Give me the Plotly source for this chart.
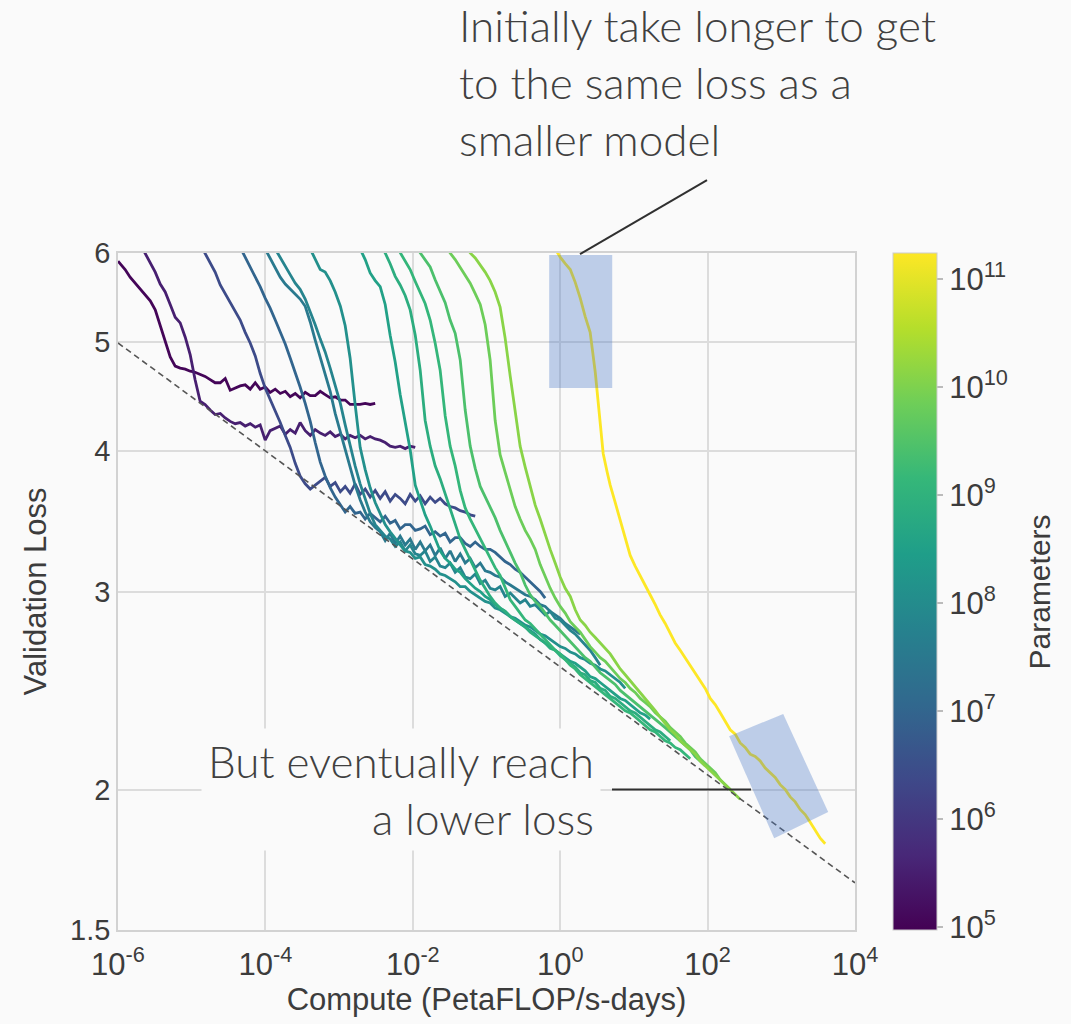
import math
import plotly.graph_objects as go
from plotly.colors import sample_colorscale

# ---------------- data ----------------
# parameter count of each training curve (colour)
params = [1.1e5, 3.2e5, 2.5e6, 1.0e7, 3.2e7, 6.3e7, 1.25e8, 3.5e8, 7.6e8,
          1.3e9, 2.7e9, 6.7e9, 1.3e10, 1.75e11]

c01_compute = [1.00e-6, 1.25e-6, 1.46e-6, 1.71e-6, 2.00e-6, 2.34e-6, 2.74e-6, 3.20e-6, 3.74e-6, 4.37e-6,
               5.11e-6, 5.97e-6, 6.98e-6, 8.17e-6, 9.55e-6, 1.11e-5, 1.30e-5, 1.52e-5, 1.78e-5, 2.08e-5,
               2.44e-5, 2.85e-5, 3.33e-5, 3.89e-5, 4.55e-5, 5.32e-5, 6.22e-5, 7.28e-5, 8.49e-5, 9.93e-5,
               1.16e-4, 1.36e-4, 1.59e-4, 1.86e-4, 2.17e-4, 2.54e-4, 2.96e-4, 3.47e-4, 4.06e-4, 4.74e-4,
               5.55e-4, 6.47e-4, 7.57e-4, 8.85e-4, 1.04e-3, 1.21e-3, 1.41e-3, 1.65e-3, 1.93e-3, 2.26e-3,
               2.64e-3, 3.09e-3]
c01_loss = [5.90, 5.80, 5.71, 5.64, 5.58, 5.51, 5.44, 5.34, 5.17, 5.00,
            4.85, 4.76, 4.74, 4.73, 4.71, 4.70, 4.68, 4.66, 4.63, 4.60,
            4.60, 4.64, 4.53, 4.55, 4.57, 4.58, 4.54, 4.60, 4.54, 4.56,
            4.51, 4.54, 4.50, 4.52, 4.47, 4.50, 4.46, 4.51, 4.48, 4.48,
            4.52, 4.49, 4.46, 4.47, 4.44, 4.44, 4.40, 4.40, 4.40, 4.41,
            4.40, 4.41]

c02_compute = [2.00e-6, 2.34e-6, 2.74e-6, 3.20e-6, 3.74e-6, 4.37e-6, 5.11e-6, 5.97e-6, 6.98e-6, 8.17e-6,
               9.55e-6, 1.11e-5, 1.30e-5, 1.52e-5, 1.78e-5, 2.08e-5, 2.44e-5, 2.85e-5, 3.33e-5, 3.89e-5,
               4.55e-5, 5.32e-5, 6.22e-5, 7.28e-5, 8.49e-5, 9.93e-5, 1.16e-4, 1.36e-4, 1.59e-4, 1.86e-4,
               2.17e-4, 2.54e-4, 2.96e-4, 3.47e-4, 4.06e-4, 4.74e-4, 5.55e-4, 6.47e-4, 7.57e-4, 8.85e-4,
               1.04e-3, 1.21e-3, 1.41e-3, 1.65e-3, 1.93e-3, 2.26e-3, 2.64e-3, 3.09e-3, 3.61e-3, 4.22e-3,
               4.93e-3, 5.77e-3, 6.74e-3, 7.88e-3, 9.21e-3, 1.08e-2]
c02_loss = [6.11, 6.00, 5.89, 5.77, 5.63, 5.54, 5.40, 5.26, 5.20, 5.05,
            4.87, 4.63, 4.43, 4.40, 4.35, 4.31, 4.32, 4.28, 4.25, 4.23,
            4.24, 4.21, 4.23, 4.20, 4.22, 4.09, 4.17, 4.19, 4.21, 4.14,
            4.18, 4.15, 4.24, 4.17, 4.13, 4.18, 4.15, 4.13, 4.16, 4.12,
            4.14, 4.10, 4.13, 4.11, 4.13, 4.10, 4.12, 4.10, 4.09, 4.07,
            4.04, 4.03, 4.04, 4.02, 4.04, 4.03]

c03_compute = [1.30e-5, 1.52e-5, 1.78e-5, 2.08e-5, 2.44e-5, 2.85e-5, 3.33e-5, 3.89e-5, 4.55e-5, 5.32e-5,
               6.22e-5, 7.28e-5, 8.49e-5, 9.93e-5, 1.16e-4, 1.36e-4, 1.59e-4, 1.86e-4, 2.17e-4, 2.54e-4,
               2.96e-4, 3.47e-4, 4.06e-4, 4.74e-4, 5.55e-4, 6.47e-4, 7.57e-4, 8.85e-4, 1.04e-3, 1.21e-3,
               1.41e-3, 1.65e-3, 1.93e-3, 2.26e-3, 2.64e-3, 3.09e-3, 3.61e-3, 4.22e-3, 4.93e-3, 5.77e-3,
               6.74e-3, 7.88e-3, 9.21e-3, 1.08e-2, 1.26e-2, 1.47e-2, 1.72e-2, 2.01e-2, 2.35e-2, 2.75e-2,
               3.21e-2, 3.76e-2, 4.40e-2, 5.14e-2, 6.01e-2, 7.03e-2]
c03_loss = [6.11, 6.00, 5.89, 5.77, 5.62, 5.52, 5.43, 5.33, 5.23, 5.10,
            4.99, 4.86, 4.69, 4.55, 4.45, 4.34, 4.24, 4.13, 4.03, 3.90,
            3.80, 3.74, 3.70, 3.73, 3.76, 3.79, 3.72, 3.75, 3.68, 3.72,
            3.67, 3.74, 3.66, 3.70, 3.64, 3.69, 3.63, 3.68, 3.61, 3.66,
            3.63, 3.59, 3.66, 3.61, 3.65, 3.59, 3.64, 3.60, 3.63, 3.59,
            3.57, 3.56, 3.54, 3.53, 3.51, 3.50]

c04_compute = [4.55e-5, 5.32e-5, 6.22e-5, 7.28e-5, 8.49e-5, 9.93e-5, 1.16e-4, 1.36e-4, 1.59e-4, 1.86e-4,
               2.17e-4, 2.54e-4, 2.96e-4, 3.47e-4, 4.06e-4, 4.74e-4, 5.55e-4, 6.47e-4, 7.57e-4, 8.85e-4,
               1.04e-3, 1.21e-3, 1.41e-3, 1.65e-3, 1.93e-3, 2.26e-3, 2.64e-3, 3.09e-3, 3.61e-3, 4.22e-3,
               4.93e-3, 5.77e-3, 6.74e-3, 7.88e-3, 9.21e-3, 1.08e-2, 1.26e-2, 1.47e-2, 1.72e-2, 2.01e-2,
               2.35e-2, 2.75e-2, 3.21e-2, 3.76e-2, 4.40e-2, 5.14e-2, 6.01e-2, 7.03e-2, 8.22e-2, 9.60e-2,
               0.112, 0.131, 0.153, 0.179, 0.210, 0.245, 0.286, 0.335, 0.392, 0.458,
               0.535, 0.625]
c04_loss = [6.07, 5.95, 5.84, 5.72, 5.60, 5.47, 5.36, 5.23, 5.11, 4.98,
            4.84, 4.70, 4.56, 4.41, 4.25, 4.07, 3.91, 3.80, 3.71, 3.64,
            3.58, 3.53, 3.57, 3.52, 3.53, 3.48, 3.52, 3.49, 3.46, 3.50,
            3.45, 3.47, 3.41, 3.44, 3.44, 3.40, 3.41, 3.43, 3.37, 3.39,
            3.36, 3.38, 3.32, 3.35, 3.35, 3.31, 3.29, 3.32, 3.29, 3.27,
            3.27, 3.25, 3.22, 3.19, 3.17, 3.14, 3.12, 3.09, 3.06, 3.03,
            3.00, 2.96]

c05_compute = [9.93e-5, 1.16e-4, 1.36e-4, 1.59e-4, 1.86e-4, 2.17e-4, 2.54e-4, 2.96e-4, 3.47e-4, 4.06e-4,
               4.74e-4, 5.55e-4, 6.47e-4, 7.57e-4, 8.85e-4, 1.04e-3, 1.21e-3, 1.41e-3, 1.65e-3, 1.93e-3,
               2.26e-3, 2.64e-3, 3.09e-3, 3.61e-3, 4.22e-3, 4.93e-3, 5.77e-3, 6.74e-3, 7.88e-3, 9.21e-3,
               1.08e-2, 1.26e-2, 1.47e-2, 1.72e-2, 2.01e-2, 2.35e-2, 2.75e-2, 3.21e-2, 3.76e-2, 4.40e-2,
               5.14e-2, 6.01e-2, 7.03e-2, 8.22e-2, 9.60e-2, 0.112, 0.131, 0.153, 0.179, 0.210,
               0.245, 0.286, 0.335, 0.392, 0.458, 0.535, 0.625, 0.731, 0.855, 1.00,
               1.17, 1.37, 1.60, 1.87]
c05_loss = [6.05, 5.94, 5.82, 5.71, 5.63, 5.57, 5.51, 5.46, 5.38, 5.21,
            5.02, 4.85, 4.68, 4.52, 4.32, 4.16, 4.00, 3.86, 3.73, 3.62,
            3.53, 3.46, 3.42, 3.39, 3.33, 3.38, 3.31, 3.36, 3.30, 3.34,
            3.27, 3.32, 3.26, 3.30, 3.23, 3.28, 3.21, 3.26, 3.19, 3.24,
            3.18, 3.21, 3.15, 3.18, 3.13, 3.12, 3.10, 3.09, 3.06, 3.04,
            3.02, 3.00, 2.98, 2.97, 2.95, 2.92, 2.91, 2.88, 2.86, 2.84,
            2.81, 2.79, 2.77, 2.75]

c06_compute = [1.36e-4, 1.59e-4, 1.86e-4, 2.17e-4, 2.54e-4, 2.96e-4, 3.47e-4, 4.06e-4, 4.74e-4, 5.55e-4,
               6.47e-4, 7.57e-4, 8.85e-4, 1.04e-3, 1.21e-3, 1.41e-3, 1.65e-3, 1.93e-3, 2.26e-3, 2.64e-3,
               3.09e-3, 3.61e-3, 4.22e-3, 4.93e-3, 5.77e-3, 6.74e-3, 7.88e-3, 9.21e-3, 1.08e-2, 1.26e-2,
               1.47e-2, 1.72e-2, 2.01e-2, 2.35e-2, 2.75e-2, 3.21e-2, 3.76e-2, 4.40e-2, 5.14e-2, 6.01e-2,
               7.03e-2, 8.22e-2, 9.60e-2, 0.112, 0.131, 0.153, 0.179, 0.210, 0.245, 0.286,
               0.335, 0.392, 0.458, 0.535, 0.625, 0.731, 0.855, 1.00, 1.17, 1.37,
               1.60, 1.87, 2.18, 2.55, 2.99, 3.49]
c06_loss = [6.05, 5.95, 5.84, 5.74, 5.64, 5.57, 5.46, 5.32, 5.18, 5.03,
            4.90, 4.74, 4.58, 4.41, 4.22, 4.04, 3.88, 3.74, 3.62, 3.52,
            3.44, 3.40, 3.36, 3.34, 3.29, 3.32, 3.26, 3.30, 3.24, 3.23,
            3.26, 3.19, 3.22, 3.16, 3.15, 3.18, 3.12, 3.15, 3.09, 3.08,
            3.11, 3.05, 3.07, 3.02, 3.01, 3.03, 2.97, 2.99, 2.96, 2.93,
            2.95, 2.91, 2.92, 2.89, 2.86, 2.88, 2.84, 2.83, 2.80, 2.77,
            2.75, 2.72, 2.69, 2.66, 2.62, 2.58]

c07_compute = [4.06e-4, 4.74e-4, 5.55e-4, 6.47e-4, 7.57e-4, 8.85e-4, 1.04e-3, 1.21e-3, 1.41e-3, 1.65e-3,
               1.93e-3, 2.26e-3, 2.64e-3, 3.09e-3, 3.61e-3, 4.22e-3, 4.93e-3, 5.77e-3, 6.74e-3, 7.88e-3,
               9.21e-3, 1.08e-2, 1.26e-2, 1.47e-2, 1.72e-2, 2.01e-2, 2.35e-2, 2.75e-2, 3.21e-2, 3.76e-2,
               4.40e-2, 5.14e-2, 6.01e-2, 7.03e-2, 8.22e-2, 9.60e-2, 0.112, 0.131, 0.153, 0.179,
               0.210, 0.245, 0.286, 0.335, 0.392, 0.458, 0.535, 0.625, 0.731, 0.855,
               1.00, 1.17, 1.37, 1.60, 1.87, 2.18, 2.55, 2.99, 3.49, 4.08,
               4.77, 5.57, 6.52, 7.62]
c07_loss = [6.05, 5.93, 5.80, 5.77, 5.67, 5.54, 5.38, 5.17, 4.84, 4.40,
            4.03, 3.85, 3.71, 3.60, 3.52, 3.44, 3.39, 3.34, 3.30, 3.26,
            3.25, 3.21, 3.22, 3.17, 3.16, 3.14, 3.11, 3.10, 3.08, 3.06,
            3.03, 3.03, 3.00, 2.98, 2.96, 2.94, 2.93, 2.90, 2.89, 2.87,
            2.85, 2.84, 2.82, 2.80, 2.79, 2.77, 2.75, 2.74, 2.72, 2.70,
            2.68, 2.67, 2.65, 2.64, 2.62, 2.61, 2.59, 2.58, 2.56, 2.55,
            2.53, 2.51, 2.49, 2.46]

c08_compute = [1.93e-3, 2.26e-3, 2.64e-3, 3.09e-3, 3.61e-3, 4.22e-3, 4.93e-3, 5.77e-3, 6.74e-3, 7.88e-3,
               9.21e-3, 1.08e-2, 1.26e-2, 1.47e-2, 1.72e-2, 2.01e-2, 2.35e-2, 2.75e-2, 3.21e-2, 3.76e-2,
               4.40e-2, 5.14e-2, 6.01e-2, 7.03e-2, 8.22e-2, 9.60e-2, 0.112, 0.131, 0.153, 0.179,
               0.210, 0.245, 0.286, 0.335, 0.392, 0.458, 0.535, 0.625, 0.731, 0.855,
               1.00, 1.17, 1.37, 1.60, 1.87, 2.18, 2.55, 2.99, 3.49, 4.08,
               4.77, 5.57, 6.52, 7.62, 8.91, 10.4, 12.2, 14.2, 16.6]
c08_loss = [6.05, 5.92, 5.76, 5.67, 5.60, 5.40, 5.07, 4.80, 4.49, 4.26,
            4.01, 3.73, 3.62, 3.51, 3.43, 3.34, 3.26, 3.21, 3.18, 3.14,
            3.12, 3.08, 3.05, 3.02, 3.00, 2.97, 2.95, 2.92, 2.90, 2.88,
            2.85, 2.83, 2.81, 2.79, 2.77, 2.75, 2.72, 2.70, 2.68, 2.66,
            2.64, 2.62, 2.60, 2.59, 2.57, 2.55, 2.52, 2.51, 2.49, 2.47,
            2.45, 2.43, 2.41, 2.40, 2.38, 2.36, 2.34, 2.33, 2.31]

c09_compute = [3.61e-3, 4.22e-3, 4.93e-3, 5.77e-3, 6.74e-3, 7.88e-3, 9.21e-3, 1.08e-2, 1.26e-2, 1.47e-2,
               1.72e-2, 2.01e-2, 2.35e-2, 2.75e-2, 3.21e-2, 3.76e-2, 4.40e-2, 5.14e-2, 6.01e-2, 7.03e-2,
               8.22e-2, 9.60e-2, 0.112, 0.131, 0.153, 0.179, 0.210, 0.245, 0.286, 0.335,
               0.392, 0.458, 0.535, 0.625, 0.731, 0.855, 1.00, 1.17, 1.37, 1.60,
               1.87, 2.18, 2.55, 2.99, 3.49, 4.08, 4.77, 5.57, 6.52, 7.62,
               8.91, 10.4, 12.2, 14.2, 16.6, 19.5, 22.7, 26.6, 31.1]
c09_loss = [6.09, 6.00, 5.87, 5.72, 5.62, 5.50, 5.34, 5.07, 4.72, 4.26,
            4.04, 3.88, 3.78, 3.66, 3.56, 3.44, 3.34, 3.27, 3.20, 3.13,
            3.07, 3.02, 2.97, 2.93, 2.90, 2.88, 2.85, 2.83, 2.81, 2.79,
            2.76, 2.74, 2.72, 2.70, 2.67, 2.66, 2.63, 2.61, 2.59, 2.57,
            2.54, 2.53, 2.50, 2.49, 2.46, 2.45, 2.42, 2.41, 2.39, 2.37,
            2.35, 2.34, 2.32, 2.30, 2.28, 2.26, 2.25, 2.23, 2.21]

c10_compute = [5.77e-3, 6.74e-3, 7.88e-3, 9.21e-3, 1.08e-2, 1.26e-2, 1.47e-2, 1.72e-2, 2.01e-2, 2.35e-2,
               2.75e-2, 3.21e-2, 3.76e-2, 4.40e-2, 5.14e-2, 6.01e-2, 7.03e-2, 8.22e-2, 9.60e-2, 0.112,
               0.131, 0.153, 0.179, 0.210, 0.245, 0.286, 0.335, 0.392, 0.458, 0.535,
               0.625, 0.731, 0.855, 1.00, 1.17, 1.37, 1.60, 1.87, 2.18, 2.55,
               2.99, 3.49, 4.08, 4.77, 5.57, 6.52, 7.62, 8.91, 10.4, 12.2,
               14.2, 16.6, 19.5, 22.7, 26.6, 31.1, 36.3, 42.5, 49.7, 58.1]
c10_loss = [6.11, 6.00, 5.89, 5.80, 5.66, 5.53, 5.41, 5.23, 4.99, 4.72,
            4.30, 4.04, 3.88, 3.69, 3.56, 3.48, 3.41, 3.34, 3.27, 3.21,
            3.15, 3.10, 3.02, 2.95, 2.91, 2.87, 2.83, 2.81, 2.78, 2.75,
            2.72, 2.69, 2.66, 2.64, 2.61, 2.58, 2.56, 2.53, 2.51, 2.49,
            2.47, 2.45, 2.43, 2.41, 2.39, 2.37, 2.35, 2.34, 2.32, 2.30,
            2.28, 2.26, 2.25, 2.23, 2.21, 2.20, 2.18, 2.17, 2.15, 2.13]

c11_compute = [1.08e-2, 1.26e-2, 1.47e-2, 1.72e-2, 2.01e-2, 2.35e-2, 2.75e-2, 3.21e-2, 3.76e-2, 4.40e-2,
               5.14e-2, 6.01e-2, 7.03e-2, 8.22e-2, 9.60e-2, 0.112, 0.131, 0.153, 0.179, 0.210,
               0.245, 0.286, 0.335, 0.392, 0.458, 0.535, 0.625, 0.731, 0.855, 1.00,
               1.17, 1.37, 1.60, 1.87, 2.18, 2.55, 2.99, 3.49, 4.08, 4.77,
               5.57, 6.52, 7.62, 8.91, 10.4, 12.2, 14.2, 16.6, 19.5, 22.7,
               26.6, 31.1, 36.3, 42.5, 49.7, 58.1, 67.9, 79.4, 92.9]
c11_loss = [6.09, 6.00, 5.92, 5.83, 5.68, 5.55, 5.42, 5.23, 5.09, 4.82,
            4.35, 4.04, 3.86, 3.72, 3.64, 3.57, 3.49, 3.40, 3.33, 3.25,
            3.18, 3.12, 3.04, 2.98, 2.94, 2.91, 2.87, 2.83, 2.80, 2.77,
            2.74, 2.71, 2.68, 2.65, 2.62, 2.60, 2.57, 2.54, 2.52, 2.50,
            2.48, 2.45, 2.43, 2.41, 2.39, 2.37, 2.35, 2.33, 2.31, 2.29,
            2.27, 2.25, 2.23, 2.21, 2.19, 2.17, 2.14, 2.12, 2.10]

c12_compute = [2.75e-2, 3.21e-2, 3.76e-2, 4.40e-2, 5.14e-2, 6.01e-2, 7.03e-2, 8.22e-2, 9.60e-2, 0.112,
               0.131, 0.153, 0.179, 0.210, 0.245, 0.286, 0.335, 0.392, 0.458, 0.535,
               0.625, 0.731, 0.855, 1.00, 1.17, 1.37, 1.60, 1.87, 2.18, 2.55,
               2.99, 3.49, 4.08, 4.77, 5.57, 6.52, 7.62, 8.91, 10.4, 12.2,
               14.2, 16.6, 19.5, 22.7, 26.6, 31.1, 36.3, 42.5, 49.7, 58.1,
               67.9, 79.4, 92.9, 108.6, 126.9, 148.3, 173.4, 202.8]
c12_loss = [6.11, 6.00, 5.92, 5.83, 5.74, 5.64, 5.52, 5.40, 5.18, 4.82,
            4.26, 3.97, 3.83, 3.69, 3.57, 3.48, 3.40, 3.34, 3.27, 3.17,
            3.09, 3.02, 2.96, 2.91, 2.87, 2.82, 2.79, 2.76, 2.72, 2.68,
            2.65, 2.62, 2.60, 2.57, 2.54, 2.51, 2.49, 2.46, 2.44, 2.41,
            2.39, 2.37, 2.34, 2.32, 2.30, 2.27, 2.25, 2.23, 2.20, 2.18,
            2.16, 2.13, 2.11, 2.09, 2.07, 2.04, 2.02, 2.00]

c13_compute = [5.14e-2, 6.01e-2, 7.03e-2, 8.22e-2, 9.60e-2, 0.112, 0.131, 0.153, 0.179, 0.210,
               0.245, 0.286, 0.335, 0.392, 0.458, 0.535, 0.625, 0.731, 0.855, 1.00,
               1.17, 1.37, 1.60, 1.87, 2.18, 2.55, 2.99, 3.49, 4.08, 4.77,
               5.57, 6.52, 7.62, 8.91, 10.4, 12.2, 14.2, 16.6, 19.5, 22.7,
               26.6, 31.1, 36.3, 42.5, 49.7, 58.1, 67.9, 79.4, 92.9, 108.6,
               126.9, 148.3, 173.4, 202.8, 237.1, 277.2]
c13_loss = [6.11, 6.00, 5.94, 5.86, 5.77, 5.67, 5.54, 5.37, 5.04, 4.66,
            4.35, 4.04, 3.87, 3.72, 3.58, 3.48, 3.37, 3.27, 3.18, 3.09,
            3.02, 2.97, 2.89, 2.83, 2.80, 2.76, 2.73, 2.70, 2.67, 2.64,
            2.60, 2.56, 2.53, 2.50, 2.47, 2.44, 2.41, 2.38, 2.35, 2.32,
            2.29, 2.26, 2.24, 2.21, 2.19, 2.17, 2.15, 2.12, 2.10, 2.08,
            2.06, 2.04, 2.02, 2.00, 1.98, 1.96]

c14_compute = [0.855, 1.00, 1.17, 1.37, 1.60, 1.87, 2.18, 2.55, 2.99, 3.49,
               3.83, 4.34, 4.77, 5.57, 6.52, 7.62, 8.91, 10.4, 12.2, 14.2, 16.6,
               19.5, 22.7, 26.6, 31.1, 36.3, 42.5, 49.7, 58.1, 67.9, 79.4,
               92.9, 108.6, 126.9, 148.3, 173.4, 202.8, 237.1, 277.2, 323.7, 378.4,
               442.6, 517.6, 605.3, 707.9, 826.0, 966.0, 1130, 1321, 1545, 1803,
               2109, 2466, 2884, 3373, 3944]
c14_loss = [6.05, 5.95, 5.87, 5.80, 5.65, 5.47, 5.27, 5.10, 4.70, 4.22,
            3.98, 3.83, 3.73, 3.60, 3.47, 3.35, 3.23, 3.16, 3.10, 3.04, 2.98,
            2.92, 2.86, 2.81, 2.75, 2.70, 2.66, 2.62, 2.58, 2.54, 2.50,
            2.46, 2.41, 2.38, 2.34, 2.30, 2.26, 2.24, 2.20, 2.18, 2.15,
            2.14, 2.12, 2.09, 2.07, 2.05, 2.02, 2.00, 1.97, 1.95, 1.92,
            1.90, 1.87, 1.84, 1.81, 1.79]

frontier_compute = [1e-6, 1e4]
frontier_loss = [4.99, 1.652]

x_tick_vals = [1e-6, 1e-4, 1e-2, 1e0, 1e2, 1e4]
x_tick_text = ["10<sup>-6</sup>", "10<sup>-4</sup>", "10<sup>-2</sup>",
               "10<sup>0</sup>", "10<sup>2</sup>", "10<sup>4</sup>"]
y_tick_vals = [1.5, 2, 3, 4, 5, 6]
y_tick_text = ["1.5", "2", "3", "4", "5", "6"]
cbar_tick_vals = [5, 6, 7, 8, 9, 10, 11]          # log10(parameters)
cbar_tick_text = ["10<sup>%d</sup>" % v for v in cbar_tick_vals]

# highlighted regions
early_box_compute = [0.709, 5.08]
early_box_loss = [4.55, 5.975]
late_box_compute = [196, 1061, 4327, 801]
late_box_loss = [2.23, 2.335, 1.91, 1.81]

# ---------------- figure ----------------
curves = [(c01_compute, c01_loss), (c02_compute, c02_loss), (c03_compute, c03_loss),
          (c04_compute, c04_loss), (c05_compute, c05_loss), (c06_compute, c06_loss),
          (c07_compute, c07_loss), (c08_compute, c08_loss), (c09_compute, c09_loss),
          (c10_compute, c10_loss), (c11_compute, c11_loss), (c12_compute, c12_loss),
          (c13_compute, c13_loss), (c14_compute, c14_loss)]

cmin = 4.97
cmax = math.log10(1.75e11)
colors = sample_colorscale("Viridis", [(math.log10(p) - cmin) / (cmax - cmin) for p in params])

fig = go.Figure()
for (cx, cy), col in zip(curves, colors):
    fig.add_trace(go.Scatter(x=cx, y=cy, mode="lines",
                             line=dict(color=col, width=2.8), hoverinfo="skip"))

fig.add_trace(go.Scatter(x=frontier_compute, y=frontier_loss, mode="lines",
                         line=dict(color="#555555", width=1.6, dash="6px,4px"),
                         hoverinfo="skip"))

txt = "#3c3c3c"
# colour bar
fig.add_trace(go.Scatter(
    x=[None], y=[None], mode="markers",
    marker=dict(color=[8], colorscale="Viridis", cmin=cmin, cmax=cmax, showscale=True,
                colorbar=dict(
                    x=1.0516, xanchor="left", xpad=0, y=0.5, yanchor="middle", ypad=0,
                    len=1, lenmode="fraction", thickness=44, thicknessmode="pixels",
                    outlinewidth=1, outlinecolor="#cccccc",
                    tickvals=cbar_tick_vals, ticktext=cbar_tick_text,
                    ticks="outside", ticklen=6, tickwidth=1.5, tickcolor="#bbbbbb",
                    tickfont=dict(size=31, color=txt))),
    hoverinfo="skip", showlegend=False))

axis_common = dict(type="log", showgrid=True, gridcolor="#dcdcdc", gridwidth=1.5,
                   showline=True, linecolor="#d2d2d2", linewidth=1.5, mirror=True,
                   ticks="", zeroline=False)

fig.update_xaxes(range=[-6, 4], tickvals=x_tick_vals, ticktext=x_tick_text,
                 tickfont=dict(size=31, color=txt), ticklabelstandoff=6,
                 title=dict(text="Compute (PetaFLOP/s-days)", font=dict(size=31, color=txt),
                            standoff=6),
                 **axis_common)
fig.update_yaxes(range=[math.log10(1.5), math.log10(6)], tickvals=y_tick_vals, ticktext=y_tick_text,
                 tickfont=dict(size=29, color=txt),
                 title=dict(text="Validation Loss", font=dict(size=31, color=txt), standoff=14),
                 **axis_common)

ann_font = dict(family="Lato, 'Open Sans', sans-serif", size=44, color="#404040", weight=300)

fig.update_layout(
    width=1071, height=1024,
    margin=dict(l=118, r=216, t=253, b=94),
    paper_bgcolor="#fafafa", plot_bgcolor="#fafafa",
    showlegend=False,
    font=dict(family="Arial, 'Liberation Sans', sans-serif", color=txt),
    shapes=[
        dict(type="line", xref="paper", yref="paper", x0=0.7992, y0=1.1078, x1=0.6269, y1=0.9985,
             line=dict(color="#303030", width=2), layer="above"),
        dict(type="line", xref="paper", yref="paper", x0=0.6703, y0=0.2075, x1=0.8589, y1=0.2075,
             line=dict(color="#303030", width=2), layer="above"),
        dict(type="rect", xref="x", yref="y",
             x0=early_box_compute[0], x1=early_box_compute[1],
             y0=early_box_loss[0], y1=early_box_loss[1],
             fillcolor="rgba(68,114,196,0.33)", line=dict(width=0), layer="above"),
        dict(type="path", xref="x", yref="y",
             path="M{},{} L{},{} L{},{} L{},{} Z".format(
                 late_box_compute[0], late_box_loss[0], late_box_compute[1], late_box_loss[1],
                 late_box_compute[2], late_box_loss[2], late_box_compute[3], late_box_loss[3]),
             fillcolor="rgba(68,114,196,0.33)", line=dict(width=0), layer="above"),
    ],
    annotations=[
        dict(text="Initially take longer to get<br>to the same loss as a<br>smaller model",
             xref="paper", yref="paper", x=0.46, y=1.252, xanchor="left", yanchor="middle",
             align="left", showarrow=False, font=ann_font),
        dict(text="But eventually reach<br>a lower loss",
             xref="paper", yref="paper", x=0.6554, y=0.2068, xanchor="right", yanchor="middle",
             align="right", showarrow=False, font=ann_font, bgcolor="#fafafa", borderpad=6),
        dict(text="Parameters", xref="paper", yref="paper", x=1.251, y=0.5,
             xanchor="center", yanchor="middle", textangle=-90, showarrow=False,
             font=dict(size=30, color=txt)),
    ],
)

fig.write_html("out.html")
